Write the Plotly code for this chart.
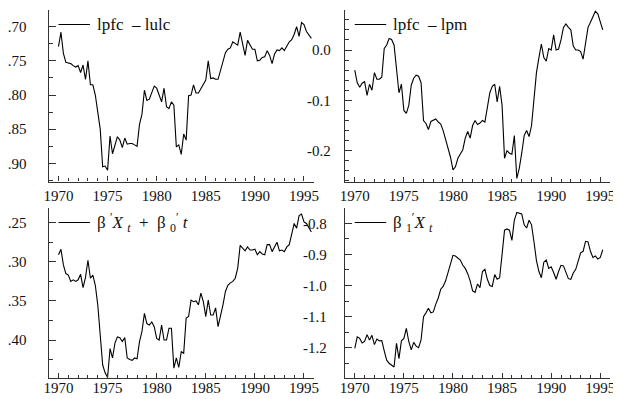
import plotly.graph_objects as go

START_YEAR = 1970

# lpfc - lulc (quarterly from 1970Q1)
lpfc_lulc = [
    -0.729, -0.708, -0.739, -0.752,
    -0.753, -0.754, -0.757, -0.759,
    -0.757, -0.767, -0.756, -0.777,
    -0.750, -0.785, -0.785, -0.800,
    -0.825, -0.850, -0.905, -0.904,
    -0.910, -0.860, -0.886, -0.873,
    -0.861, -0.866, -0.877, -0.863,
    -0.872, -0.871, -0.871, -0.873,
    -0.875, -0.843, -0.828, -0.793,
    -0.808, -0.806, -0.797, -0.787,
    -0.790, -0.800, -0.810, -0.790,
    -0.817, -0.820, -0.810, -0.815,
    -0.876, -0.873, -0.887, -0.857,
    -0.866, -0.801, -0.800, -0.785,
    -0.797, -0.797, -0.790, -0.784,
    -0.778, -0.750, -0.776, -0.775,
    -0.777, -0.777, -0.765, -0.750,
    -0.738, -0.733, -0.731, -0.722,
    -0.725, -0.727, -0.708, -0.727,
    -0.742, -0.720, -0.726, -0.733,
    -0.733, -0.750, -0.749, -0.745,
    -0.744, -0.735, -0.742, -0.754,
    -0.740, -0.734, -0.735, -0.731,
    -0.735, -0.729, -0.722, -0.719,
    -0.711, -0.700, -0.714, -0.694,
    -0.697, -0.707, -0.713, -0.717,
]

# lpfc - lpm
lpfc_lpm = [
    -0.040, -0.065, -0.074, -0.066,
    -0.063, -0.090, -0.068, -0.080,
    -0.045, -0.058, -0.058, -0.054,
    0.003, 0.010, 0.023, 0.021,
    0.010, -0.040, -0.085, -0.068,
    -0.120, -0.126, -0.110, -0.070,
    -0.056, -0.050, -0.052, -0.065,
    -0.140, -0.146, -0.158, -0.142,
    -0.140, -0.137, -0.143, -0.147,
    -0.160, -0.178, -0.197, -0.213,
    -0.238, -0.232, -0.215, -0.205,
    -0.198, -0.175, -0.162, -0.175,
    -0.150, -0.140, -0.148, -0.145,
    -0.140, -0.143, -0.115, -0.085,
    -0.072, -0.068, -0.103, -0.072,
    -0.110, -0.215, -0.200, -0.205,
    -0.207, -0.170, -0.255, -0.235,
    -0.205, -0.170, -0.160, -0.172,
    -0.150, -0.095, -0.045, -0.015,
    0.012, -0.015, -0.022, 0.003,
    0.000, 0.030, 0.000, 0.002,
    0.020, 0.045, 0.052, 0.045,
    0.040, 0.008, 0.000, 0.000,
    -0.003, -0.018, 0.010, 0.045,
    0.055, 0.065, 0.077, 0.072,
    0.055, 0.040,
]

# beta' X_t + beta_0' t
beta_x_trend = [
    -0.291, -0.284, -0.304, -0.315,
    -0.317, -0.325, -0.323, -0.325,
    -0.323, -0.316, -0.333, -0.320,
    -0.298, -0.321, -0.317, -0.330,
    -0.355, -0.400, -0.432, -0.442,
    -0.448, -0.411, -0.423, -0.404,
    -0.396, -0.397, -0.402, -0.397,
    -0.423, -0.425, -0.426, -0.423,
    -0.424, -0.402, -0.389, -0.366,
    -0.379, -0.381, -0.377, -0.383,
    -0.398, -0.400, -0.381, -0.400,
    -0.400, -0.385, -0.385, -0.436,
    -0.423, -0.435, -0.415, -0.417,
    -0.372, -0.370, -0.349, -0.351,
    -0.350, -0.355, -0.340, -0.351,
    -0.370, -0.349, -0.368, -0.368,
    -0.359, -0.383, -0.370, -0.355,
    -0.338, -0.330, -0.327, -0.325,
    -0.321, -0.308, -0.279, -0.283,
    -0.286, -0.281, -0.285, -0.285,
    -0.284, -0.291, -0.287, -0.290,
    -0.291, -0.278, -0.278, -0.287,
    -0.281, -0.275, -0.286, -0.285,
    -0.287, -0.281, -0.278, -0.266,
    -0.251, -0.257, -0.241, -0.239,
    -0.249, -0.251, -0.257, -0.262,
]

# beta_1' X_t
beta1_x = [
    -1.202, -1.165, -1.170, -1.185,
    -1.180, -1.158, -1.175, -1.160,
    -1.190, -1.172, -1.178, -1.177,
    -1.210, -1.240, -1.250, -1.256,
    -1.262, -1.186, -1.235, -1.178,
    -1.170, -1.138, -1.180, -1.207,
    -1.183, -1.195, -1.200, -1.175,
    -1.100, -1.088, -1.073, -1.088,
    -1.085, -1.060, -1.040, -1.012,
    -1.003, -0.985, -0.960, -0.935,
    -0.903, -0.905, -0.913, -0.918,
    -0.935, -0.945, -0.962, -0.985,
    -1.017, -1.022, -0.995, -1.007,
    -0.955, -0.948, -0.980, -1.000,
    -1.003, -0.965, -0.980, -0.975,
    -0.900, -0.822, -0.818, -0.822,
    -0.855, -0.790, -0.765, -0.767,
    -0.770, -0.805, -0.815, -0.790,
    -0.805, -0.860, -0.920, -0.955,
    -0.975, -0.925, -0.918, -0.945,
    -0.940, -0.958, -0.980, -0.955,
    -0.935, -0.937, -0.960, -0.978,
    -0.980, -0.960, -0.948, -0.925,
    -0.895, -0.890, -0.858, -0.860,
    -0.890, -0.910, -0.905, -0.915,
    -0.910, -0.885,
]

x_tick_vals = [1970, 1975, 1980, 1985, 1990, 1995]
x_tick_text = ["1970", "1975", "1980", "1985", "1990", "1995"]

y1_tick_vals = [-0.70, -0.75, -0.80, -0.85, -0.90]
y1_tick_text = [".70", ".75", ".80", ".85", ".90"]
y2_tick_vals = [0.0, -0.1, -0.2]
y2_tick_text = ["0.0", "-0.1", "-0.2"]
y3_tick_vals = [-0.25, -0.30, -0.35, -0.40]
y3_tick_text = [".25", ".30", ".35", ".40"]
y4_tick_vals = [-0.8, -0.9, -1.0, -1.1, -1.2]
y4_tick_text = ["-0.8", "-0.9", "-1.0", "-1.1", "-1.2"]

legend_texts = [
    "lpfc  \u2013 lulc",
    "lpfc  \u2013 lpm",
    "\u03b2 <sup>\u2032</sup><i>X</i> <sub><i>t</i></sub>  +  \u03b2 <sub>0</sub><sup>\u2032</sup> <i>t</i>",
    "\u03b2 <sub>1</sub><sup>\u2032</sup><i>X</i> <sub><i>t</i></sub>",
]


def quarters(n):
    return [START_YEAR + i / 4 for i in range(n)]


# the page body adds an 8px margin, so the figure is sized to the visible area
OFF = 8
W, H = 621 - OFF, 399 - OFF
AX = "#333333"
FONT = "Liberation Serif"

# panel pixel boxes in page coordinates: (left, right, top, bottom)
boxes = [
    (43.3, 313.3, 10, 181.5),
    (345.0, 615.0, 10, 182.0),
    (43.3, 313.3, 208, 378),
    (345.0, 615.0, 208, 378),
]
y_ranges = [
    (-0.9266, -0.6755),
    (-0.2622, 0.0795),
    (-0.4486, -0.2312),
    (-1.2974, -0.7508),
]
# (tick values, tick texts, minor step, y label standoff, x label standoff)
y_ticks = [
    (y1_tick_vals, y1_tick_text, 0.025, 18, 0),
    (y2_tick_vals, y2_tick_text, 0.02, 10, 0),
    (y3_tick_vals, y3_tick_text, 0.025, 18, -4),
    (y4_tick_vals, y4_tick_text, 0.05, 14, -4),
]
series = [lpfc_lulc, lpfc_lpm, beta_x_trend, beta1_x]

fig = go.Figure()
layout = dict(
    width=W, height=H,
    margin=dict(l=0, r=0, t=0, b=0),
    paper_bgcolor="white", plot_bgcolor="white",
    showlegend=False,
)

for k in range(4):
    sfx = "" if k == 0 else str(k + 1)
    xa, ya = "x" + sfx, "y" + sfx
    vals = series[k]
    fig.add_trace(go.Scatter(
        x=quarters(len(vals)), y=vals, mode="lines",
        line=dict(color="black", width=1.1),
        xaxis=xa, yaxis=ya, hoverinfo="skip",
    ))
    l, r, t, b = [v - OFF for v in boxes[k]]
    tv, tt, minor_dt, standoff, xstand = y_ticks[k]
    layout["xaxis" + sfx] = dict(
        domain=[l / W, r / W], anchor=ya, range=[1969, 1996],
        showline=True, linecolor=AX, linewidth=1.3,
        ticks="inside", ticklen=5, tickcolor=AX, tickwidth=1,
        tickmode="array", tickvals=x_tick_vals, ticktext=x_tick_text,
        minor=dict(ticks="inside", ticklen=3, tickcolor=AX, tick0=1970, dtick=1, showgrid=False),
        showgrid=False, zeroline=False, ticklabelstandoff=xstand,
        tickfont=dict(family=FONT, size=15, color="#111"),
    )
    layout["yaxis" + sfx] = dict(
        domain=[(H - b) / H, (H - t) / H], anchor=xa, range=list(y_ranges[k]),
        showline=True, linecolor=AX, linewidth=1.3,
        ticks="inside", ticklen=7, tickcolor=AX, tickwidth=1,
        tickmode="array", tickvals=tv, ticktext=tt,
        minor=dict(ticks="inside", ticklen=4, tickcolor=AX, tick0=0, dtick=minor_dt, showgrid=False),
        showgrid=False, zeroline=False, ticklabelstandoff=standoff,
        tickfont=dict(family=FONT, size=15, color="#111"),
    )
    # legend sample line + label
    ly = 1 - 14.5 / (b - t)
    fig.add_shape(type="line", xref=xa + " domain", yref=ya + " domain",
                  x0=10 / 270, x1=42 / 270, y0=ly, y1=ly,
                  line=dict(color="black", width=1))
    fig.add_annotation(text=legend_texts[k], xref=xa + " domain", yref=ya + " domain",
                       x=47 / 270, y=ly, xanchor="left", yanchor="middle",
                       showarrow=False, font=dict(family=FONT, size=17, color="#111"))

fig.update_layout(**layout)
fig.write_html("out.html")
